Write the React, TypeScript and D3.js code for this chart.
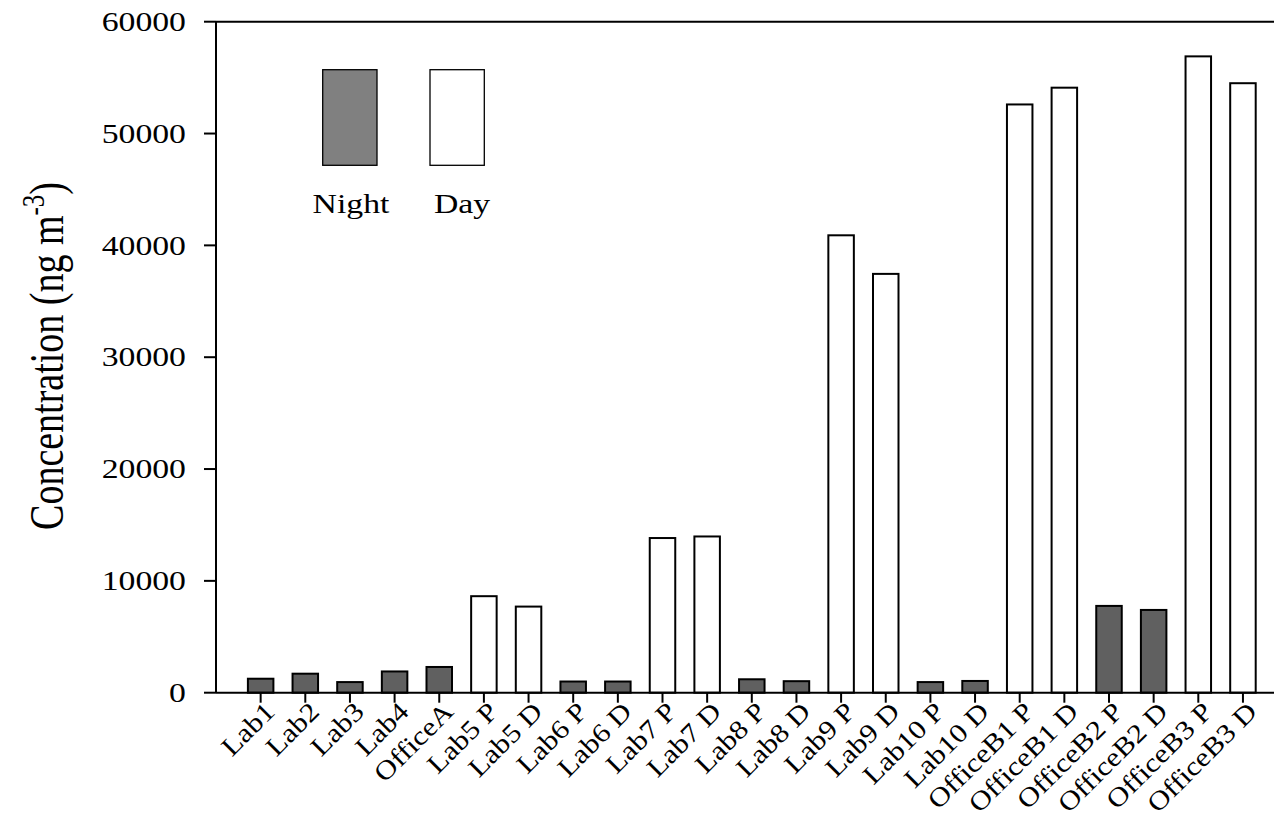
import { scaleLinear, scalePoint } from 'd3'

const categories = [
  'Lab1', 'Lab2', 'Lab3', 'Lab4', 'OfficeA', 'Lab5 P', 'Lab5 D', 'Lab6 P', 'Lab6 D',
  'Lab7 P', 'Lab7 D', 'Lab8 P', 'Lab8 D', 'Lab9 P', 'Lab9 D', 'Lab10 P', 'Lab10 D',
  'OfficeB1 P', 'OfficeB1 D', 'OfficeB2 P', 'OfficeB2 D', 'OfficeB3 P', 'OfficeB3 D',
]
const values = [
  1250, 1700, 950, 1900, 2300, 8630, 7700, 1000, 1000,
  13830, 13970, 1200, 1030, 40900, 37450, 950, 1050,
  52600, 54100, 7760, 7400, 56900, 54500,
]
// N = night sample, D = day sample
const period = [
  'N', 'N', 'N', 'N', 'N', 'D', 'D', 'N', 'N',
  'D', 'D', 'N', 'N', 'D', 'D', 'N', 'N',
  'D', 'D', 'N', 'N', 'D', 'D',
]
const yTicks = [0, 10000, 20000, 30000, 40000, 50000, 60000]

const width = 1274
const height = 827
const left = 216
const top = 21.7
const bottom = 692.7
const font = '"Liberation Serif", "Times New Roman", serif'
const stretch = 1.25 // text in the original is drawn a bit wide

const x = scalePoint<string>().domain(categories).range([left, 1287.6]).padding(1)
const y = scaleLinear().domain([0, 60000]).range([bottom, top])
const barW = 25.5

function App() {
  return (
    <svg width={width} height={height} style={{ position: 'absolute', left: 0, top: 0, background: '#fff' }}
      fontFamily={font}>
      {/* bars */}
      {categories.map((c, i) => (
        <rect key={c} x={x(c)! - barW / 2} y={y(values[i])} width={barW} height={bottom - y(values[i])}
          fill={period[i] === 'N' ? '#606060' : '#fff'} stroke="#000" strokeWidth={2} />
      ))}

      {/* frame */}
      <line x1={left} x2={width} y1={top} y2={top} stroke="#000" strokeWidth={2} />
      <line x1={left} x2={width} y1={bottom} y2={bottom} stroke="#000" strokeWidth={2} />
      <line x1={left} x2={left} y1={top} y2={bottom} stroke="#000" strokeWidth={2} />

      {/* y axis */}
      {yTicks.map(t => (
        <g key={t} transform={`translate(0, ${y(t)})`}>
          <line x1={204} x2={left} stroke="#000" strokeWidth={2} />
          <text transform={`translate(186, 0) scale(${stretch}, 1)`} dy="0.34em" textAnchor="end" fontSize={27}>{t}</text>
        </g>
      ))}
      <text transform={`translate(63, 356) scale(${stretch}, 1) rotate(-90)`} textAnchor="middle" fontSize={38}>
        Concentration (ng m<tspan dy={-15} fontSize={25}>-3</tspan><tspan dy={15}>)</tspan>
      </text>

      {/* x axis */}
      {categories.map(c => (
        <g key={c} transform={`translate(${x(c)}, ${bottom})`}>
          <line y1={0} y2={10} stroke="#000" strokeWidth={2} />
          <text transform={`translate(9, 14) rotate(-45) scale(1.15, 1)`} textAnchor="end" dy="0.35em" fontSize={26.5}>{c}</text>
        </g>
      ))}

      {/* legend */}
      <rect x={322.7} y={69.7} width={54.3} height={95.6} fill="#808080" stroke="#000" strokeWidth={1.3} />
      <rect x={430} y={69.7} width={54.3} height={95.6} fill="#fff" stroke="#000" strokeWidth={1.3} />
      <text transform={`translate(351, 213) scale(${stretch}, 1)`} textAnchor="middle" fontSize={27}>Night</text>
      <text transform={`translate(462, 213) scale(${stretch}, 1)`} textAnchor="middle" fontSize={27}>Day</text>
    </svg>
  )
}

export default App
